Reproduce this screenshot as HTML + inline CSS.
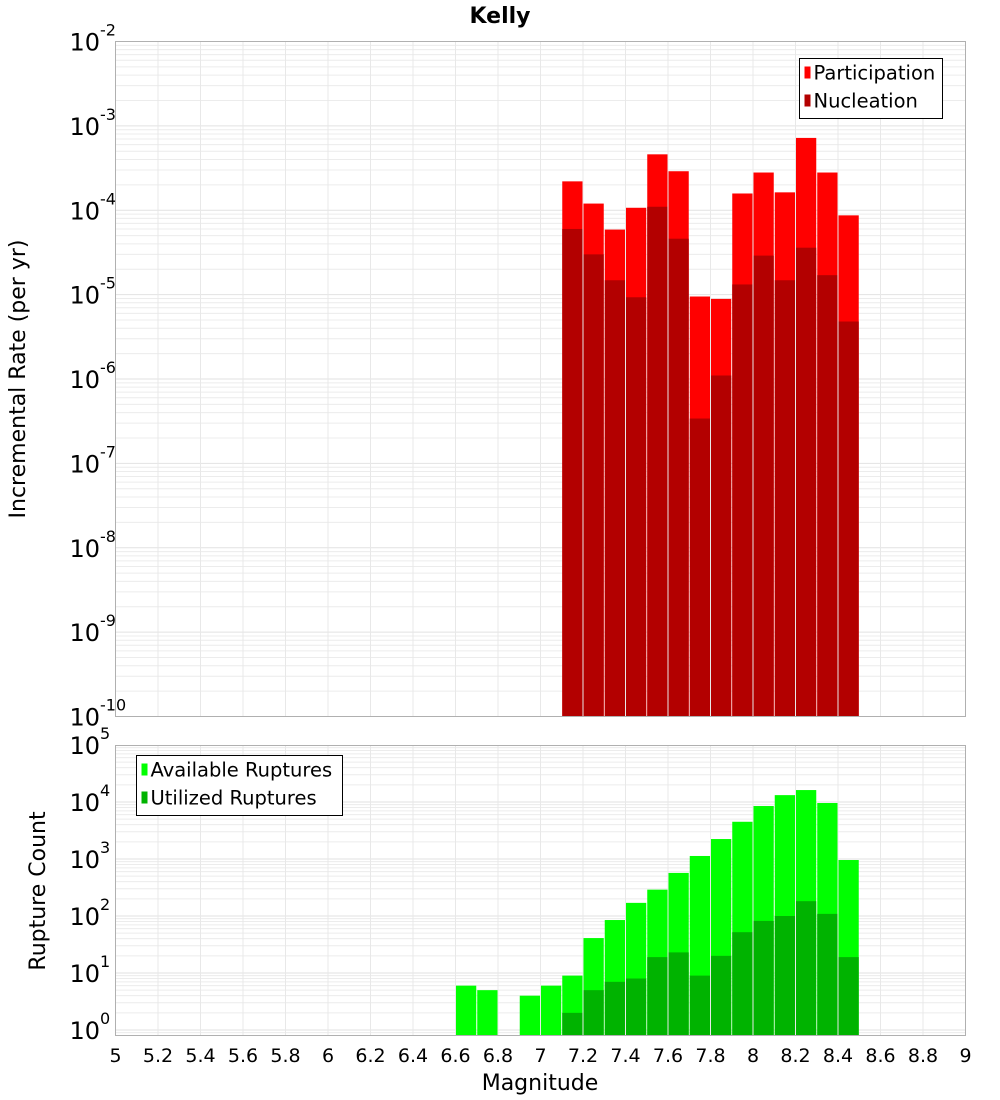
<!DOCTYPE html>
<html><head><meta charset="utf-8"><style>
html,body{margin:0;padding:0;background:#fff;}
svg{display:block;font-family:"DejaVu Sans","Liberation Sans",sans-serif;}
</style></head><body>
<svg id="c" width="1000" height="1100" viewBox="0 0 1000 1100"></svg>
<script>
const mags = [7.1,7.2,7.3,7.4,7.5,7.6,7.7,7.8,7.9,8.0,8.1,8.2,8.3,8.4];
const participation = [2.2e-4,1.2e-4,5.9e-5,1.07e-4,4.6e-4,2.9e-4,9.5e-6,8.9e-6,1.58e-4,2.8e-4,1.63e-4,7.2e-4,2.8e-4,8.7e-5];
const nucleation = [6.0e-5,3.0e-5,1.48e-5,9.3e-6,1.1e-4,4.6e-5,3.4e-7,1.1e-6,1.32e-5,2.9e-5,1.48e-5,3.6e-5,1.7e-5,4.8e-6];
const countMags = [6.6,6.7,6.9,7.0,7.1,7.2,7.3,7.4,7.5,7.6,7.7,7.8,7.9,8.0,8.1,8.2,8.3,8.4];
const available = [6,5,4,6,9,41,85,170,290,570,1130,2240,4500,8500,13200,16200,9600,960];
const utilized = [0,0,0,0,2,5,7,8,19,23,9,20,52,82,100,182,109,19];
const xTicks = ["5","5.2","5.4","5.6","5.8","6","6.2","6.4","6.6","6.8","7","7.2","7.4","7.6","7.8","8","8.2","8.4","8.6","8.8","9"];
const topExp = [-2,-3,-4,-5,-6,-7,-8,-9,-10];
const botExp = [5,4,3,2,1,0];

const NS="http://www.w3.org/2000/svg";
const svg=document.getElementById('c');
function el(tag,attrs,parent){const e=document.createElementNS(NS,tag);for(const k in attrs)e.setAttribute(k,attrs[k]);(parent||svg).appendChild(e);return e;}
const L=115.5,R=965.5;
const xs=m=>L+(m-5)*(R-L)/4;
const T1=41.5,B1=716.5;
const y1=v=>T1+(-2-Math.log10(v))*(B1-T1)/8;
const T2=745.5,B2=1035.5,dec2=57;
const y2=v=>1030-Math.log10(v)*dec2;

function grid(top,bot,ymap,lo,hi){
  for(let e=lo;e<hi;e++)for(let k=1;k<10;k++){const y=ymap(k*Math.pow(10,e));if(y<top||y>bot)continue;
    const g=el('line',{x1:L,x2:R,y1:y,y2:y,stroke:k==1?'#e2e2e2':'#ececec','stroke-width':1});
    
    }
  for(let i=1;i<20;i++){const x=xs(5+i*0.2);
    const g=el('line',{x1:x,x2:x,y1:top,y2:bot,stroke:'#e8e8e8'});
    
    }
}
grid(T1,B1,y1,-10,-2);
grid(T2,B2,y2,-1,5);

function bar(m,v,ymap,base,color,name){
  if(v<=0)return;
  const x0=xs(m)+0.5,x1=xs(m+0.1)-0.5;const y=ymap(v);
  const r=el('rect',{x:x0,y:y,width:x1-x0,height:base-y,fill:color});
  
  
}
mags.forEach((m,i)=>bar(m,participation[i],y1,B1,'#ff0000','participation-bar'));
mags.forEach((m,i)=>bar(m,nucleation[i],y1,B1,'#b30000','nucleation-bar'));
countMags.forEach((m,i)=>bar(m,available[i],y2,B2,'#00ff00','available-bar'));
countMags.forEach((m,i)=>bar(m,utilized[i],y2,B2,'#00b300','utilized-bar'));

let f=el('rect',{x:L,y:T1,width:R-L,height:B1-T1,fill:'none',stroke:'#b0b0b0'});

f=el('rect',{x:L,y:T2,width:R-L,height:B2-T2,fill:'none',stroke:'#b0b0b0'});


function ylab(y,e,name){
  const t=el('text',{x:100,y:y+9,'text-anchor':'end','font-size':24,fill:'#000'});
  t.textContent='10';
  
  const s=el('text',{x:100,y:y-6,'font-size':16,fill:'#000'});
  s.textContent=String(e);
  
}
topExp.forEach(e=>ylab(y1(Math.pow(10,e)),e,'y-tick-label'));
botExp.forEach(e=>ylab(y2(Math.pow(10,e)),e,'count-tick-label'));

xTicks.forEach((s,i)=>{const t=el('text',{x:xs(5+i*0.2),y:1062,'text-anchor':'middle','font-size':19,fill:'#000'});
  t.textContent=s;});

let t=el('text',{x:540,y:1090,'text-anchor':'middle','font-size':22});t.textContent='Magnitude';

t=el('text',{x:0,y:0,'text-anchor':'middle','font-size':22,transform:'translate(25,379) rotate(-90)'});t.textContent='Incremental Rate (per yr)';

t=el('text',{x:0,y:0,'text-anchor':'middle','font-size':22,transform:'translate(45,891) rotate(-90)'});t.textContent='Rupture Count';

t=el('text',{x:500,y:23,'text-anchor':'middle','font-size':22,'font-weight':'bold'});t.textContent='Kelly';


function legend(x,y,w,items,name){
  const b=el('rect',{x:x,y:y,width:w,height:items.length*28+4,fill:'#fff',stroke:'#000'});
  
  items.forEach((it,i)=>{
    const r=el('rect',{x:x+5,y:y+8+i*28,width:6,height:12,fill:it[1]});
    
    const tt=el('text',{x:x+14,y:y+21+i*28,'font-size':19.5});tt.textContent=it[0];
    
  });
}
legend(799.5,58.5,143,[['Participation','#ff0000'],['Nucleation','#b30000']],'rate-legend');
legend(136.5,755.5,206,[['Available Ruptures','#00ff00'],['Utilized Ruptures','#00b300']],'count-legend');
</script>
</body></html>
